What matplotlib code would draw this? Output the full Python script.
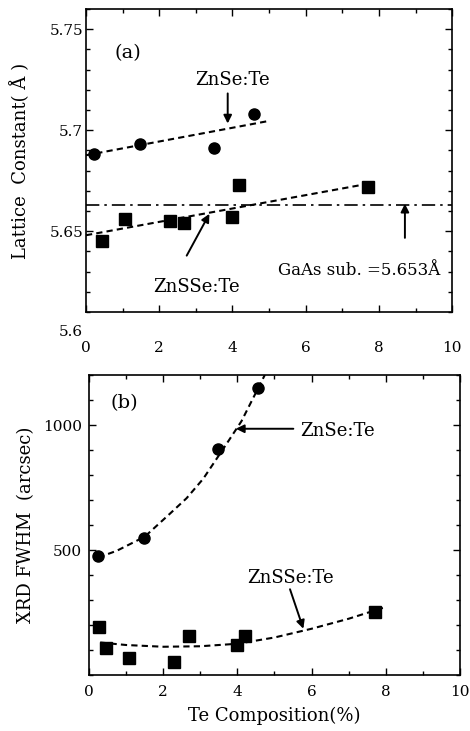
import matplotlib

matplotlib.use("Agg")
import matplotlib.pyplot as plt  # noqa: E402
from matplotlib.ticker import MultipleLocator  # noqa: E402

plt.rcParams["font.family"] = ["DejaVu Serif"]
plt.rcParams["mathtext.fontset"] = "dejavuserif"

# (a) lattice constant
te_znse_a = [0.23, 1.48, 3.50, 4.59]
lat_znse = [5.688, 5.693, 5.691, 5.708]
te_znsse_a = [0.43, 1.07, 2.29, 2.68, 3.99, 4.19, 7.69]
lat_znsse = [5.645, 5.656, 5.655, 5.654, 5.657, 5.673, 5.672]
fit_znse_a_x = [0.0, 5.0]
fit_znse_a_y = [5.6876, 5.7046]
fit_znsse_a_x = [0.0, 7.86]
fit_znsse_a_y = [5.648, 5.674]
gaas_line = 5.663

# (b) XRD FWHM
te_znse_b = [0.25, 1.49, 3.49, 4.56]
fwhm_znse = [476, 549, 903, 1149]
te_znsse_b = [0.28, 0.46, 1.08, 2.30, 2.70, 4.0, 4.2, 7.71]
fwhm_znsse = [193, 109, 67, 52, 156, 119, 156, 252]
curve_znse_x = [0.25, 0.75, 1.5, 2.18, 2.63, 3.08, 3.5, 3.8, 4.11, 4.56, 4.74]
curve_znse_y = [470, 497, 553, 645, 707, 785, 878, 945, 1015, 1147, 1200]
curve_znsse_x = [0.3, 1.0, 2.0, 3.0, 4.0, 5.0, 6.0, 7.0, 8.0]
curve_znsse_y = [130, 120, 113, 115, 125, 150, 185, 225, 272]

DASH = (0, (3, 2))
ARROW = dict(arrowstyle="-|>", color="black", lw=1.4, mutation_scale=12,
             shrinkA=0, shrinkB=0)

fig = plt.figure(figsize=(4.7, 7.31), dpi=100)
ax1 = fig.add_axes([0.183, 0.5732, 0.779, 0.4145])
ax2 = fig.add_axes([0.1894, 0.0766, 0.789, 0.4104])

for ax in (ax1, ax2):
    ax.tick_params(which="both", direction="in", top=True, right=True,
                   labelsize=11)
    ax.tick_params(which="major", length=5, width=1)
    ax.tick_params(which="minor", length=3, width=1)
    ax.xaxis.set_major_locator(MultipleLocator(2))
    ax.xaxis.set_minor_locator(MultipleLocator(1))
    ax.set_xlim(0, 10)
    for s in ax.spines.values():
        s.set_linewidth(1.2)

# ---- panel (a)
ax1.plot(fit_znse_a_x, fit_znse_a_y, color="black", lw=1.5, linestyle=DASH)
ax1.plot(fit_znsse_a_x, fit_znsse_a_y, color="black", lw=1.5, linestyle=DASH)
ax1.axhline(gaas_line, color="black", lw=1.2, linestyle=(0, (8, 3, 1.5, 3)))
ax1.plot(te_znse_a, lat_znse, "o", color="black", ms=8)
ax1.plot(te_znsse_a, lat_znsse, "s", color="black", ms=8.5)

ax1.set_ylim(5.61, 5.76)
ax1.set_yticks([5.65, 5.7, 5.75])
ax1.set_yticklabels(["5.65", "5.7", "5.75"])
ax1.yaxis.set_minor_locator(MultipleLocator(0.01))
ax1.tick_params(axis="x", which="major", pad=21)
ax1.tick_params(axis="y", which="major", pad=2)
ax1.text(-0.08, 5.6, "5.6", ha="right", va="center", fontsize=11,
         clip_on=False)
ax1.set_ylabel("Lattice  Constant( Å )", fontsize=13, labelpad=14)

ax1.text(1.15, 5.738, "(a)", fontsize=14, ha="center", va="center")
ax1.text(4.0, 5.7248, "ZnSe:Te", fontsize=13, ha="center", va="center")
ax1.annotate("", xy=(3.87, 5.7033), xytext=(3.87, 5.7182), arrowprops=ARROW)
ax1.text(3.02, 5.6225, "ZnSSe:Te", fontsize=13, ha="center", va="center")
ax1.annotate("", xy=(3.37, 5.6586), xytext=(2.75, 5.6379), arrowprops=ARROW)
ax1.text(5.25, 5.6305, "GaAs sub. =5.653Å", fontsize=12, ha="left",
         va="center")
ax1.annotate("", xy=(8.71, 5.6636), xytext=(8.71, 5.6467), arrowprops=ARROW)

# ---- panel (b)
ax2.plot(curve_znse_x, curve_znse_y, color="black", lw=1.5, linestyle=DASH)
ax2.plot(curve_znsse_x, curve_znsse_y, color="black", lw=1.5, linestyle=DASH)
ax2.plot(te_znse_b, fwhm_znse, "o", color="black", ms=8)
ax2.plot(te_znsse_b, fwhm_znsse, "s", color="black", ms=8.5)

ax2.set_ylim(0, 1200)
ax2.set_yticks([500, 1000])
ax2.yaxis.set_minor_locator(MultipleLocator(100))
ax2.tick_params(axis="x", which="major", pad=7)
ax2.tick_params(axis="y", which="major", pad=5)
ax2.set_ylabel("XRD FWHM  (arcsec)", fontsize=13, labelpad=6)
ax2.set_xlabel("Te Composition(%)", fontsize=13, labelpad=6)

ax2.text(0.95, 1089, "(b)", fontsize=14, ha="center", va="center")
ax2.text(5.69, 976, "ZnSe:Te", fontsize=13, ha="left", va="center")
ax2.annotate("", xy=(3.96, 985), xytext=(5.51, 985), arrowprops=ARROW)
ax2.text(5.42, 389, "ZnSSe:Te", fontsize=13, ha="center", va="center")
ax2.annotate("", xy=(5.78, 185), xytext=(5.42, 343), arrowprops=ARROW)

fig.savefig("out.png", dpi=100)
plt.close(fig)
